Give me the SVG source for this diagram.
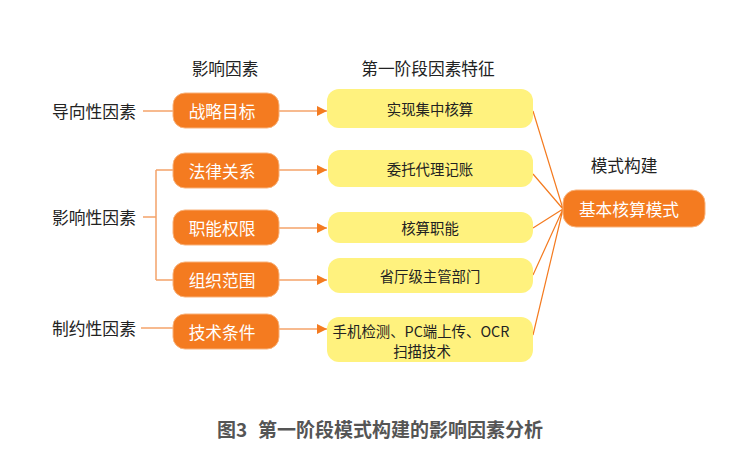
<svg xmlns="http://www.w3.org/2000/svg" width="754" height="472" viewBox="0 0 754 472">
<style>
.ob{fill:#f47b20;stroke:#f9b27a;stroke-width:1}
.yb{fill:#fff27e}
.ot{font-family:"Noto Sans CJK SC","Noto Sans",sans-serif;font-size:16.7px;fill:#fff;text-anchor:middle;dominant-baseline:central}
.yt{font-family:"Noto Sans CJK SC","Noto Sans",sans-serif;font-size:14.4px;fill:#222;text-anchor:middle;dominant-baseline:central}
.lt{font-family:"Noto Sans CJK SC","Noto Sans",sans-serif;font-size:16.8px;fill:#222;dominant-baseline:central}
.ht{font-family:"Noto Sans CJK SC","Noto Sans",sans-serif;font-size:16.7px;fill:#222;text-anchor:middle;dominant-baseline:central}
.ct{font-family:"Noto Sans CJK SC","Noto Sans",sans-serif;font-size:19px;font-weight:bold;fill:#555;dominant-baseline:central}
.ln{stroke:#f4a36a;stroke-width:1.5;fill:none}
.ln2{stroke:#f47b20;stroke-width:1.2;fill:none}
</style>
<defs>
<marker id="ah" markerWidth="10" markerHeight="10" refX="10" refY="5" orient="auto" markerUnits="userSpaceOnUse">
<path d="M0,0 L10,5 L0,10 z" fill="#f47b20"/>
</marker>
</defs>
<rect width="754" height="472" fill="#fff"/>
<g id="headers">
<text class="ht" x="225" y="68">影响因素</text>
<text class="ht" x="428" y="68">第一阶段因素特征</text>
<text class="ht" x="624" y="165">模式构建</text>
</g>
<g id="connectors">
<path class="ln" d="M143,111 H173"/>
<path class="ln" d="M143,217 H156 M156,170 V280 M156,170 H173 M156,280 H173"/>
<path class="ln" d="M141,328 H173"/>
<path class="ln" d="M279,111 H327" marker-end="url(#ah)"/>
<path class="ln" d="M279,170 H327" marker-end="url(#ah)"/>
<path class="ln" d="M279,228 H327" marker-end="url(#ah)"/>
<path class="ln" d="M279,280 H327" marker-end="url(#ah)"/>
<path class="ln" d="M279,329 H327" marker-end="url(#ah)"/>
<path class="ln2" d="M533,111 L563,209 M533,174 L563,209 M533,228 L563,209 M533,275 L563,209 M533,335 L563,209"/>
</g>
<g id="l1"><text class="lt" x="52" y="111">导向性因素</text></g>
<g id="l2"><text class="lt" x="52" y="217">影响性因素</text></g>
<g id="l3"><text class="lt" x="52" y="328">制约性因素</text></g>
<g id="o1"><rect class="ob" x="173" y="93" width="106" height="35" rx="12"/><text class="ot" x="222" y="110.5">战略目标</text></g>
<g id="o2"><rect class="ob" x="173" y="153" width="106" height="35" rx="12"/><text class="ot" x="222" y="170.5">法律关系</text></g>
<g id="o3"><rect class="ob" x="173" y="210" width="106" height="35" rx="12"/><text class="ot" x="222" y="227.5">职能权限</text></g>
<g id="o4"><rect class="ob" x="173" y="262" width="106" height="35" rx="12"/><text class="ot" x="222" y="279.5">组织范围</text></g>
<g id="o5"><rect class="ob" x="173" y="314" width="106" height="35" rx="12"/><text class="ot" x="222" y="331.5">技术条件</text></g>
<g id="y1"><rect class="yb" x="327" y="89" width="206" height="39" rx="12"/><text class="yt" x="430" y="108.5">实现集中核算</text></g>
<g id="y2"><rect class="yb" x="328" y="150" width="205" height="37" rx="12"/><text class="yt" x="430" y="168.5">委托代理记账</text></g>
<g id="y3"><rect class="yb" x="328" y="212" width="205" height="31" rx="12"/><text class="yt" x="430" y="227.5">核算职能</text></g>
<g id="y4"><rect class="yb" x="328" y="258" width="205" height="35" rx="12"/><text class="yt" x="430" y="275.5">省厅级主管部门</text></g>
<g id="y5"><rect class="yb" x="327" y="317" width="206" height="45" rx="12"/><text class="yt" x="421" y="330">手机检测、PC端上传、OCR</text><text class="yt" x="422" y="350">扫描技术</text></g>
<g id="m1"><rect class="ob" x="563" y="190" width="142" height="37" rx="13"/><text class="ot" x="629" y="208.5">基本核算模式</text></g>
<g id="caption"><text class="ct" x="217" y="428">图3</text><text class="ct" x="258" y="428" textLength="285" lengthAdjust="spacing">第一阶段模式构建的影响因素分析</text></g>
</svg>
